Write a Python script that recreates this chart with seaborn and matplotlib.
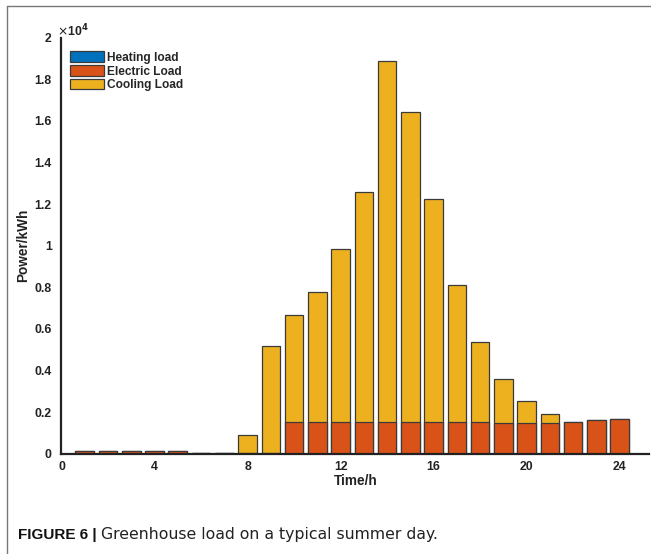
import numpy as np
import pandas as pd
import matplotlib
matplotlib.use("Agg")
import matplotlib.pyplot as plt
import seaborn as sns
from matplotlib.patches import Patch
from matplotlib.lines import Line2D

# ---- data (kWh) ----
hours = list(range(1, 25))
heating = [0] * 24
electric = [130, 120, 120, 120, 120, 30, 30, 40, 40, 1510, 1510, 1510,
            1510, 1510, 1510, 1510, 1510, 1510, 1460, 1460, 1460, 1540, 1605, 1650]
cooling_total = [130, 120, 120, 120, 120, 30, 30, 890, 5180, 6680, 7760, 9830,
                 12580, 18870, 16440, 12230, 8100, 5370, 3590, 2550, 1890, 1540, 1605, 1650]
series_names = ["Heating load", "Electric Load", "Cooling Load"]
colors = ["#0072BD", "#D95319", "#EDB120"]
xticks = [0, 4, 8, 12, 16, 20, 24]
yticks = [0, 2000, 4000, 6000, 8000, 10000, 12000, 14000, 16000, 18000, 20000]

cooling = [max(t - e - h, 0) for t, e, h in zip(cooling_total, electric, heating)]

df = pd.DataFrame({"hour": hours, "heating": heating, "electric": electric, "cooling": cooling})
df["lvl1"] = df["heating"]
df["lvl2"] = df["heating"] + df["electric"]
df["lvl3"] = df["lvl2"] + df["cooling"]

sns.set_style("white")
plt.rcParams["font.family"] = ["Liberation Sans", "DejaVu Sans"]

fig = plt.figure(figsize=(6.51, 5.54), dpi=100)
ax = fig.add_axes([61.5 / 651, 1 - 453.7 / 554, (649 - 61.5) / 651, (453.7 - 37.7) / 554])

edge = "#3a3a3a"
for col, c in zip(["lvl3", "lvl2", "lvl1"], [colors[2], colors[1], colors[0]]):
    sns.barplot(data=df, x="hour", y=col, native_scale=True, width=0.8,
                color=c, edgecolor=edge, linewidth=0.9, saturation=1, ax=ax,
                errorbar=None)

ax.set_xlim(0, 25.26)
ax.set_ylim(0, 20000)
ax.set_xticks(xticks)
ax.set_xticklabels([str(t) for t in xticks])
ax.set_yticks(yticks)
ax.set_yticklabels([f"{v / 1e4:g}" for v in yticks])

for s in ["top", "right"]:
    ax.spines[s].set_visible(False)
for s in ["left", "bottom"]:
    ax.spines[s].set_linewidth(1.6)
    ax.spines[s].set_color("#222222")
ax.tick_params(axis="both", direction="in", length=5, width=1.4, color="#222222",
               labelsize=8.8)
for lbl in ax.get_xticklabels() + ax.get_yticklabels():
    lbl.set_fontweight("bold")
    lbl.set_color("#222222")
ax.tick_params(axis="x", pad=5)
ax.tick_params(axis="y", pad=7)

ax.set_xlabel("Time/h", fontsize=9.8, fontweight="bold", color="#222222", labelpad=1)
ax.set_ylabel("Power/kWh", fontsize=9.8, fontweight="bold", color="#222222", labelpad=3)

fig.text(57 / 651, 1 - 36 / 554, r"$\times$10$^{\mathbf{4}}$", fontsize=8.8, fontweight="bold",
         color="#222222", ha="left", va="baseline")

handles = [Patch(facecolor=c, edgecolor=edge, linewidth=0.9) for c in colors]
ax.legend(handles, series_names, loc="upper left", bbox_to_anchor=(0.0, 0.987),
          frameon=False, prop={"weight": "bold", "size": 8.6}, handlelength=2.85,
          handleheight=0.95, handletextpad=0.25, labelspacing=0.13, borderaxespad=0.3)

# figure frame (top & left)
fig.add_artist(Line2D([7 / 651, 1], [1 - 6 / 554, 1 - 6 / 554], transform=fig.transFigure,
                      color="#777777", linewidth=1.0))
fig.add_artist(Line2D([7 / 651, 7 / 651], [0, 1 - 6 / 554], transform=fig.transFigure,
                      color="#777777", linewidth=1.0))

# caption
cap_y = 1 - 539 / 554
t1 = fig.text(18 / 651, cap_y, "FIGURE 6 |", fontsize=11, fontweight="bold",
              color="#111111", ha="left", va="baseline")
fig.canvas.draw()
bb = t1.get_window_extent()
fig.text((bb.x1 + 4) / 651, cap_y, "Greenhouse load on a typical summer day.", fontsize=11.3,
         color="#222222", ha="left", va="baseline", family=["DejaVu Sans"])

fig.savefig("out.png", dpi=100)
